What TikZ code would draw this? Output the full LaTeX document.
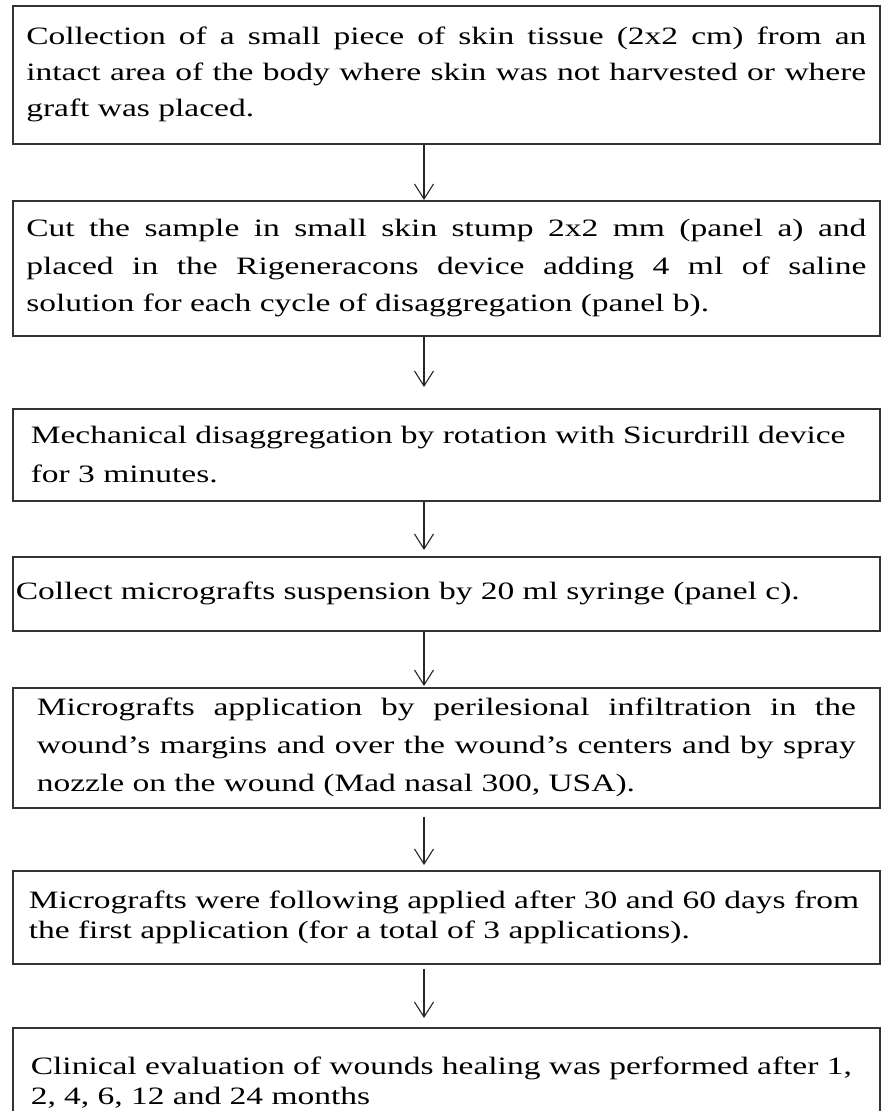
\documentclass[tikz,border=0pt]{standalone}
\usepackage{fontspec}
\newfontfamily\stepfont[FakeStretch=1.34]{Liberation Serif}
\usetikzlibrary{arrows.meta}

\tikzset{
  stepbox/.style={draw=black!80, line width=1.6pt, rectangle, anchor=north west,
    align=left, minimum width=867pt, font=\stepfont\fontsize{25}{#1}\selectfont},
  stepbox/.default=37,
  flow/.style={draw=black!85, line width=1.1pt, -{Straight Barb[length=15pt,width=19pt]}}
}

\begin{document}
\begin{tikzpicture}[x=1pt,y=1pt]
\clip (0,0) rectangle (881,-1111);

% Steps
\node[stepbox=36, text width=840pt, inner xsep=13pt, minimum height=138pt, align=justify] (collect) at (12,-5)
  {Collection of a small piece of skin tissue (2x2 cm) from an\linebreak intact area of the body where skin was not harvested or where\linebreak graft was placed.};
\node[stepbox=37.5, text width=840pt, inner xsep=13pt, minimum height=135pt, align=justify] (cut) at (12,-200)
  {Cut the sample in small skin stump 2x2 mm (panel a) and\linebreak placed in the Rigeneracons device adding 4 ml of saline\linebreak solution for each cycle of disaggregation (panel b).};
\node[stepbox=39, text width=831pt, inner xsep=18pt, minimum height=92pt] (mechanical) at (12,-408)
  {Mechanical disaggregation by rotation with Sicurdrill device\\ for 3 minutes.};
\node[stepbox, text width=861pt, inner xsep=3pt, minimum height=74pt] (syringe) at (12,-556)
  {Collect micrografts suspension by 20 ml syringe (panel c).};
\node[stepbox=38, text width=819pt, inner xsep=24pt, minimum height=120pt, align=justify] (apply) at (12,-687)
  {Micrografts application by perilesional infiltration in the\linebreak wound’s margins and over the wound’s centers and by spray\linebreak nozzle on the wound (Mad nasal 300, USA).};
\node[stepbox=30, text width=835pt, inner xsep=16pt, minimum height=93pt] (repeat) at (12,-870)
  {Micrografts were following applied after 30 and 60 days from\\ the first application (for a total of 3 applications).};
\node[stepbox=30, text width=831pt, inner xsep=18pt, minimum height=110pt] (evaluate) at (12,-1027)
  {Clinical evaluation of wounds healing was performed after 1,\\ 2, 4, 6, 12 and 24 months};

% Arrows
\coordinate (spine) at (424,0);
\draw[flow] (collect.south -| spine) -- (cut.north -| spine);
\draw[flow, shorten >=21pt] (cut.south -| spine) -- (mechanical.north -| spine);
\draw[flow, shorten >=6pt] (mechanical.south -| spine) -- (syringe.north -| spine);
\draw[flow, shorten >=1pt] (syringe.south -| spine) -- (apply.north -| spine);
\draw[flow, shorten <=8pt, shorten >=5pt] (apply.south -| spine) -- (repeat.north -| spine);
\draw[flow, shorten <=4pt, shorten >=9pt] (repeat.south -| spine) -- (evaluate.north -| spine);
\end{tikzpicture}
\end{document}
